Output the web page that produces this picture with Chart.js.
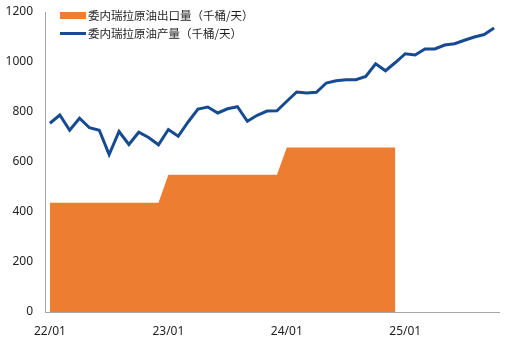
<!DOCTYPE html>
<html>
<head>
<meta charset="utf-8">
<script src="https://cdn.jsdelivr.net/npm/chart.js@4.4.1/dist/chart.umd.min.js"></script>
<style>
html,body{margin:0;padding:0;background:#fff;}
#wrap{position:relative;width:511px;height:341px;}
</style>
</head>
<body>
<div id="wrap"><canvas id="c" width="511" height="341"></canvas></div>
<script>
const categories = [
  "22/01","22/02","22/03","22/04","22/05","22/06","22/07","22/08","22/09","22/10","22/11","22/12",
  "23/01","23/02","23/03","23/04","23/05","23/06","23/07","23/08","23/09","23/10","23/11","23/12",
  "24/01","24/02","24/03","24/04","24/05","24/06","24/07","24/08","24/09","24/10","24/11","24/12",
  "25/01","25/02","25/03","25/04","25/05","25/06","25/07","25/08","25/09","25/10"
];
const exportName = "委内瑞拉原油出口量（千桶/天）";
const productionName = "委内瑞拉原油产量（千桶/天）";
const exportValues = [
  437,437,437,437,437,437,437,437,437,437,437,437,
  549,549,549,549,549,549,549,549,549,549,549,549,
  658,658,658,658,658,658,658,658,658,658,658,658,
  null,null,null,null,null,null,null,null,null,null
];
const productionValues = [
  755,788,727,775,737,727,630,722,670,719,698,669,
  730,703,760,812,820,796,813,821,763,787,804,805,
  843,880,876,879,916,925,929,929,942,993,965,998,
  1033,1028,1052,1052,1068,1073,1087,1100,1110,1136
];
const xTickLabels = ["22/01","23/01","24/01","25/01"];
const yTicks = [0,200,400,600,800,1000,1200];

const ORANGE = "#ED7D31";
const BLUE = "#164B92";
const TEXT = "#1E1E1E";
const FONT = "'Noto Sans', 'Noto Sans CJK SC', sans-serif";

const legendPlugin = {
  id: 'customLegend',
  afterDraw(chart) {
    const ctx = chart.ctx;
    ctx.save();
    ctx.font = "11.5px 'Noto Sans CJK SC', sans-serif";
    ctx.textBaseline = 'middle';
    const items = [
      {ds: chart.data.datasets[1], y: 15.5, kind: 'box'},
      {ds: chart.data.datasets[0], y: 33.5, kind: 'line'}
    ];
    items.forEach(it => {
      if (it.kind === 'box') {
        ctx.fillStyle = it.ds.backgroundColor;
        ctx.fillRect(60, it.y - 3.5, 26, 7);
      } else {
        ctx.strokeStyle = it.ds.borderColor;
        ctx.lineWidth = 3;
        ctx.beginPath();
        ctx.moveTo(60, it.y);
        ctx.lineTo(86, it.y);
        ctx.stroke();
      }
      ctx.fillStyle = TEXT;
      ctx.fillText(it.ds.label, 88, it.y);
    });
    ctx.restore();
  }
};

new Chart(document.getElementById('c'), {
  type: 'line',
  data: {
    labels: categories,
    datasets: [
      {
        label: productionName,
        data: productionValues,
        borderColor: BLUE,
        borderWidth: 3,
        pointRadius: 0,
        tension: 0,
        fill: false,
        order: 0
      },
      {
        label: exportName,
        data: exportValues,
        borderColor: ORANGE,
        backgroundColor: ORANGE,
        borderWidth: 0,
        pointRadius: 0,
        tension: 0,
        fill: 'origin',
        order: 1
      }
    ]
  },
  options: {
    responsive: false,
    animation: false,
    events: [],
    layout: {padding: {top: 12, right: 12, left: 0, bottom: 0}},
    plugins: {legend: {display: false}, tooltip: {enabled: false}},
    scales: {
      x: {
        type: 'category',
        offset: true,
        grid: {display: false, drawTicks: false, tickLength: 0},
        border: {display: true, color: '#A6A6A6', width: 1},
        afterFit(s) { s.height = 29; s.paddingLeft = 0; s.paddingRight = 0; },
        ticks: {
          autoSkip: false,
          maxRotation: 0,
          padding: 12,
          color: TEXT,
          font: {family: FONT, size: 12},
          callback(v) {
            const l = categories[v];
            return xTickLabels.includes(l) ? l : null;
          }
        }
      },
      y: {
        min: 0,
        max: 1200,
        afterFit(s) { s.width = 45; s.paddingTop = 0; s.paddingBottom = 0; },
        afterBuildTicks(s) { s.ticks = yTicks.map(v => ({value: v})); },
        grid: {display: false, drawTicks: false, tickLength: 0},
        border: {display: true, color: '#A6A6A6', width: 1},
        ticks: {
          padding: 12,
          color: TEXT,
          font: {family: FONT, size: 12},
          callback(v) { return String(v); }
        }
      }
    }
  },
  plugins: [legendPlugin]
});
</script>
</body>
</html>
